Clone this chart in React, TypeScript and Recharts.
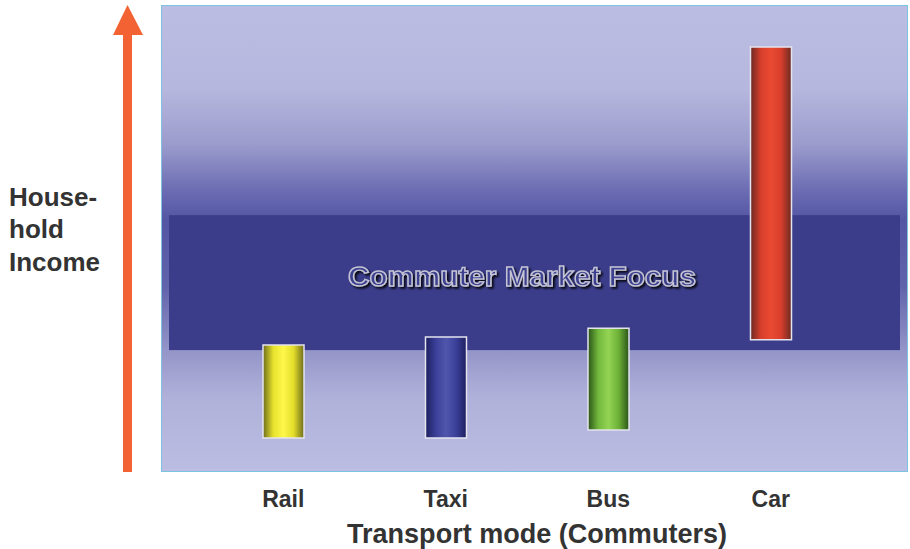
import { BarChart, Bar, XAxis, YAxis, Cell, ReferenceArea } from "recharts"

const modes = ["Rail", "Taxi", "Bus", "Car"]
const incomeLow = [7.3, 7.3, 9.0, 28.3]
const incomeHigh = [27.2, 28.9, 30.8, 91.0]
const focusBand = [26.1, 55.0]

const barGradients = [
    ["#6f6c1c", "#e6e22c", "#fff84a", "#e2dc2a", "#6f6c1c"],
    ["#1d1f5e", "#3b3f98", "#5156ad", "#3b3f98", "#1d1f5e"],
    ["#2a5418", "#72b83c", "#94d454", "#6cb036", "#2a5418"],
    ["#6a2a22", "#d63e2c", "#ea4a32", "#d63e2c", "#6a2a22"],
]

const data = modes.map((mode, i) => ({
    mode,
    range: [incomeLow[i], incomeHigh[i]],
}))

const WIDTH = 910
const HEIGHT = 549
const MARGIN = { top: 5, right: 2, bottom: 37, left: 161 }
const PLOT_LEFT = MARGIN.left
const PLOT_W = WIDTH - MARGIN.left - MARGIN.right

const font = "'Liberation Sans', Arial, sans-serif"

export default function App() {
    return (
        <div style={{ position: "absolute", left: 0, top: 0, width: WIDTH, height: HEIGHT, fontFamily: font }}>
            <svg width={WIDTH} height={HEIGHT} style={{ position: "absolute", left: 0, top: 0 }}>
                <rect x={123} y={34} width={9} height={438} fill="#f26232" />
                <polygon points="127.5,5 113,35 143,35" fill="#f26232" />
                <text fontFamily={font} fontWeight="bold" fontSize={26} fill="#333">
                    <tspan x={9} y={206}>House-</tspan>
                    <tspan x={9} y={238}>hold</tspan>
                    <tspan x={9} y={271}>Income</tspan>
                </text>
                <text x={537} y={543} textAnchor="middle" fontFamily={font} fontWeight="bold" fontSize={27}
                    fill="#333" textLength={380} lengthAdjust="spacingAndGlyphs">
                    Transport mode (Commuters)
                </text>
            </svg>
            <BarChart
                width={WIDTH}
                height={HEIGHT}
                data={data}
                margin={MARGIN}
                style={{ position: "absolute", left: 0, top: 0 }}
            >
                <defs>
                    <linearGradient id="bg" x1="0" y1="0" x2="0" y2="1">
                        <stop offset="0" stopColor="#bcbde2" />
                        <stop offset="0.18" stopColor="#b6b7de" />
                        <stop offset="0.3" stopColor="#9a9bcc" />
                        <stop offset="0.4" stopColor="#6a6bb2" />
                        <stop offset="0.46" stopColor="#5456a4" />
                        <stop offset="0.6" stopColor="#6062aa" />
                        <stop offset="0.74" stopColor="#9495c8" />
                        <stop offset="0.84" stopColor="#b0b1da" />
                        <stop offset="1" stopColor="#bcbde2" />
                    </linearGradient>
                    {barGradients.map((stops, i) => (
                        <linearGradient key={i} id={`bar${i}`} x1="0" y1="0" x2="1" y2="0">
                            {stops.map((c, j) => (
                                <stop key={j} offset={j / (stops.length - 1)} stopColor={c} />
                            ))}
                        </linearGradient>
                    ))}
                    <filter id="shadow" x="-10%" y="-30%" width="120%" height="160%">
                        <feDropShadow dx="2" dy="2" stdDeviation="0.8" floodColor="#000" floodOpacity="0.85" />
                    </filter>
                </defs>
                <XAxis
                    dataKey="mode"
                    padding={{ left: 41, right: 56 }}
                    axisLine={false}
                    tickLine={false}
                    height={40}
                    tickMargin={13}
                    tick={{ fontSize: 23, fontWeight: "bold", fill: "#333", fontFamily: font }}
                />
                <YAxis hide domain={[0, 100]} />
                <ReferenceArea
                    y1={0}
                    y2={100}
                    ifOverflow="visible"
                    shape={(p: any) => (
                        <rect x={PLOT_LEFT + 0.5} y={p.y + 0.5} width={PLOT_W - 1} height={p.height - 1}
                            fill="url(#bg)" stroke="#7cc4e0" strokeWidth={1} />
                    )}
                />
                <ReferenceArea
                    y1={focusBand[0]}
                    y2={focusBand[1]}
                    ifOverflow="visible"
                    shape={(p: any) => (
                        <g>
                            <rect x={PLOT_LEFT + 8} y={p.y} width={PLOT_W - 16} height={p.height} fill="#3b3d8a" />
                            <text x={522} y={p.y + p.height / 2 + 3} textAnchor="middle" fontFamily={font}
                                fontWeight="bold" fontSize={27} fill="#3d408e" stroke="#c4c4d4" strokeWidth={1.4}
                                textLength={348} lengthAdjust="spacingAndGlyphs" filter="url(#shadow)">
                                Commuter Market Focus
                            </text>
                        </g>
                    )}
                />
                <Bar dataKey="range" barSize={41} stroke="#e4e4ee" strokeWidth={1.5} isAnimationActive={false}>
                    {data.map((_, i) => (
                        <Cell key={i} fill={`url(#bar${i})`} />
                    ))}
                </Bar>
            </BarChart>
        </div>
    )
}
